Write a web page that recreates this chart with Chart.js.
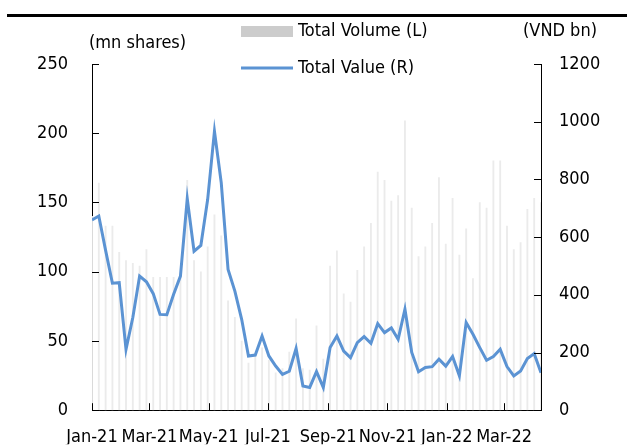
<!DOCTYPE html>
<html>
<head>
<meta charset="utf-8">
<script src="https://cdn.jsdelivr.net/npm/chart.js@4.4.1/dist/chart.umd.min.js"></script>
<style>
html, body { margin: 0; padding: 0; background: #fff; }
#wrap { width: 627px; height: 445px; }
</style>
</head>
<body>
<div id="wrap"><canvas id="chart" width="627" height="445"></canvas></div>
<script>
// weekly data, Jan-21 .. early Apr-22 (x = days since 1 Jan 2021)
var weekStep = 7;
var totalVolume = [140, 164, 133, 133, 114, 108, 106, 104, 116, 96,
                   96, 96, 96, 98, 166, 108, 100, 118, 141, 126,
                   79, 67, 50, 34, 40, 45, 36, 27, 30, 42,
                   66, 30, 29, 61, 37, 104, 115, 84, 78, 101,
                   118, 135, 172, 166, 151, 155, 209, 146, 111, 118,
                   135, 168, 120, 153, 112, 131, 95, 150, 146, 180,
                   180, 133, 116, 121, 145, 153, 150];
var totalValue = [659, 673, 554, 440, 442, 211, 321, 465, 445, 404,
                  332, 331, 402, 465, 733, 551, 571, 730, 967, 788,
                  488, 413, 315, 188, 191, 257, 188, 153, 124, 135,
                  214, 84, 79, 134, 79, 217, 257, 205, 182, 234,
                  255, 232, 300, 269, 285, 246, 350, 200, 133, 148,
                  151, 177, 153, 186, 119, 304, 263, 217, 173, 186,
                  211, 151, 119, 136, 179, 196, 130];
var tickDays = [0, 59, 120, 181, 243, 304, 365, 424];
var tickLabels = ['Jan-21', 'Mar-21', 'May-21', 'Jul-21', 'Sep-21', 'Nov-21', 'Jan-22', 'Mar-22'];

var FONT = "'DejaVu Sans Condensed', 'DejaVu Sans', sans-serif";
var BLUE = '#5b93d3';
var GREY = '#cccccc';

Chart.defaults.font.family = FONT;
Chart.defaults.font.size = 18;
Chart.defaults.color = '#000';

var volPoints = totalVolume.map(function (v, i) { return { x: i * weekStep, y: v }; });
var valPoints = totalValue.map(function (v, i) { return { x: i * weekStep, y: v }; });

// inward tick marks, legend and unit labels
var decorPlugin = {
    id: 'decor',
    afterDraw: function (chart) {
        var ctx = chart.ctx;
        var area = chart.chartArea;
        var sx = chart.scales.x, yl = chart.scales.yL, yr = chart.scales.yR;
        ctx.save();
        ctx.strokeStyle = '#000';
        ctx.lineWidth = 1;
        ctx.beginPath();
        yl.ticks.forEach(function (t) {
            var p = Math.round(yl.getPixelForValue(t.value)) + 0.5;
            ctx.moveTo(area.left, p); ctx.lineTo(area.left + 7, p);
        });
        yr.ticks.forEach(function (t) {
            var p = Math.round(yr.getPixelForValue(t.value)) + 0.5;
            ctx.moveTo(area.right - 7, p); ctx.lineTo(area.right, p);
        });
        tickDays.forEach(function (d) {
            var p = Math.round(sx.getPixelForValue(d)) + 0.5;
            ctx.moveTo(p, area.bottom); ctx.lineTo(p, area.bottom - 7);
        });
        ctx.stroke();

        // heading rule
        ctx.fillStyle = '#000';
        ctx.fillRect(7, 14, 620, 3);

        // legend
        ctx.fillStyle = GREY;
        ctx.fillRect(241, 26, 52, 11);
        ctx.strokeStyle = BLUE;
        ctx.lineWidth = 3;
        ctx.beginPath();
        ctx.moveTo(241, 68); ctx.lineTo(293, 68);
        ctx.stroke();

        ctx.fillStyle = '#000';
        ctx.font = '18px ' + FONT;
        ctx.textBaseline = 'middle';
        ctx.textAlign = 'left';
        ctx.fillText('Total Volume (L)', 298, 31);
        ctx.fillText('Total Value (R)', 298, 68);
        ctx.fillText('(mn shares)', 89, 43);
        ctx.fillText('(VND bn)', 523, 31);
        ctx.restore();
    }
};

var chart = new Chart(document.getElementById('chart'), {
    type: 'bar',
    data: {
        datasets: [
            {
                type: 'line',
                label: 'Total Value (R)',
                data: valPoints,
                yAxisID: 'yR',
                borderColor: BLUE,
                borderWidth: 3,
                pointRadius: 0,
                tension: 0,
                order: 0
            },
            {
                type: 'bar',
                label: 'Total Volume (L)',
                data: volPoints,
                yAxisID: 'yL',
                backgroundColor: '#ebebeb',
                barThickness: 1.2,
                order: 1
            }
        ]
    },
    options: {
        responsive: false,
        animation: false,
        layout: { padding: { top: 64, left: 0, right: 0, bottom: 0 } },
        plugins: {
            legend: { display: false },
            tooltip: { enabled: false }
        },
        scales: {
            x: {
                type: 'linear',
                offset: false,
                min: 0,
                max: (totalValue.length - 1) * weekStep,
                grid: { display: false, drawTicks: false },
                border: { display: true, color: '#000', width: 1 },
                afterBuildTicks: function (scale) {
                    scale.ticks = tickDays.map(function (d) { return { value: d }; });
                },
                afterFit: function (scale) { scale.height = 34; },
                ticks: {
                    autoSkip: false,
                    maxRotation: 0,
                    padding: 16,
                    callback: function (v, i) { return tickLabels[i]; }
                }
            },
            yL: {
                type: 'linear',
                position: 'left',
                min: 0,
                max: 250,
                grid: { display: false, drawTicks: false },
                border: { display: true, color: '#000', width: 1 },
                afterFit: function (scale) { scale.width = 92; },
                ticks: { stepSize: 50, padding: 24, callback: function (v) { return String(v); } }
            },
            yR: {
                type: 'linear',
                position: 'right',
                min: 0,
                max: 1200,
                grid: { display: false, drawTicks: false },
                border: { display: true, color: '#000', width: 1 },
                afterFit: function (scale) { scale.width = 86; },
                ticks: { stepSize: 200, padding: 18, callback: function (v) { return String(v); } }
            }
        }
    },
    plugins: [decorPlugin]
});
</script>
</body>
</html>
